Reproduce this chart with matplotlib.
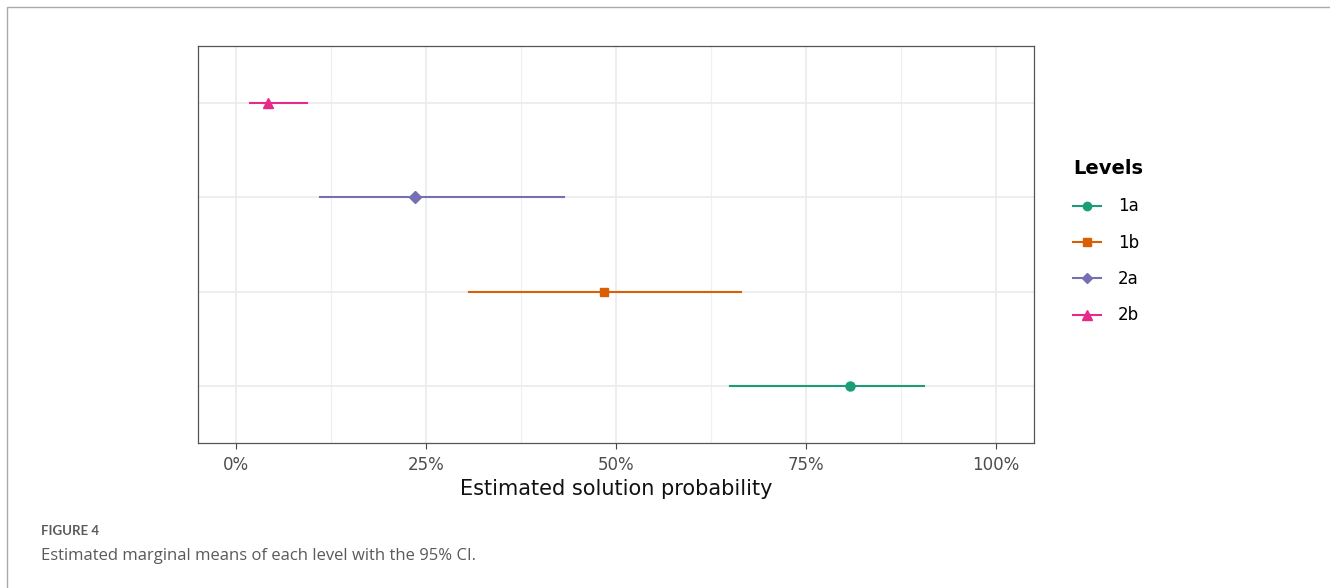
import matplotlib.pyplot as plt
from matplotlib.patches import Rectangle
from matplotlib.ticker import FuncFormatter, MultipleLocator

# estimated marginal means with 95% CI
levels = ['1a', '1b', '2a', '2b']
means = [0.808, 0.484, 0.235, 0.042]
lower = [0.650, 0.306, 0.110, 0.018]
upper = [0.905, 0.665, 0.432, 0.093]
colors = ['#1B9E77', '#D95F02', '#7570B3', '#E7298A']
markers = ['o', 's', 'D', '^']
msizes = [6.5, 6, 6, 7]

plt.rcParams['font.family'] = ['DejaVu Sans']

fig = plt.figure(figsize=(13.3, 5.88), dpi=100)
ax = fig.add_axes([198/1330, 1 - 443/588, (1034-198)/1330, (443-46)/588])

for i, lv in enumerate(levels):
    y = i + 1
    ax.plot([lower[i], upper[i]], [y, y], color=colors[i], lw=1.5, zorder=3)
    ax.plot(means[i], y, marker=markers[i], color=colors[i], ms=msizes[i],
            ls='none', zorder=4)

# legend handles
handles = [plt.Line2D([], [], color=colors[i], marker=markers[i], ms=msizes[i] - 0.5, lw=1.5)
           for i in range(len(levels))]
leg = fig.legend(handles, levels, title='Levels', loc='upper left',
                 bbox_to_anchor=(1058/1330, 1 - 144/588), frameon=False,
                 fontsize=12, title_fontsize=14, handlelength=1.7,
                 labelspacing=1.1, handletextpad=1.0)
leg.get_title().set_fontweight('bold')
leg._legend_box.align = 'left'
leg._legend_box.sep = 14

ax.set_xlim(-0.05, 1.05)
ax.set_ylim(0.4, 4.6)
ax.xaxis.set_major_locator(MultipleLocator(0.25))
ax.xaxis.set_minor_locator(MultipleLocator(0.125))
ax.xaxis.set_major_formatter(FuncFormatter(lambda v, p: f'{v*100:.0f}%'))
ax.set_yticks([1, 2, 3, 4])
ax.set_yticklabels([])
ax.grid(which='major', color='#EBEBEB', lw=1.2, zorder=0)
ax.grid(which='minor', axis='x', color='#F0F0F0', lw=0.9, zorder=0)
ax.tick_params(axis='x', which='major', length=4, color='#444444',
               labelsize=12, labelcolor='#4D4D4D', pad=5)
ax.tick_params(axis='x', which='minor', length=0)
ax.tick_params(axis='y', length=0)
for s in ax.spines.values():
    s.set_color('#555555')
    s.set_linewidth(0.9)
ax.set_axisbelow(True)
ax.set_xlabel('Estimated solution probability', fontsize=15, color='#111111', labelpad=4)

# page frame and caption
fig.patches.append(Rectangle((7/1330, -0.1), 1.1, 1 - 7/588 + 0.1, transform=fig.transFigure,
                             fill=False, edgecolor='#AAAAAA', lw=1))
fig.text(41/1330, 1 - 531/588, 'FIGURE 4', fontsize=9.5, fontweight='bold',
         color='#5A5A5A', va='center', family=['Lato', 'DejaVu Sans'])
fig.text(41/1330, 1 - 556/588, 'Estimated marginal means of each level with the 95% CI.',
         fontsize=12, color='#5A5A5A', va='center', family=['Open Sans', 'DejaVu Sans'])

fig.savefig('out.png', dpi=100)
